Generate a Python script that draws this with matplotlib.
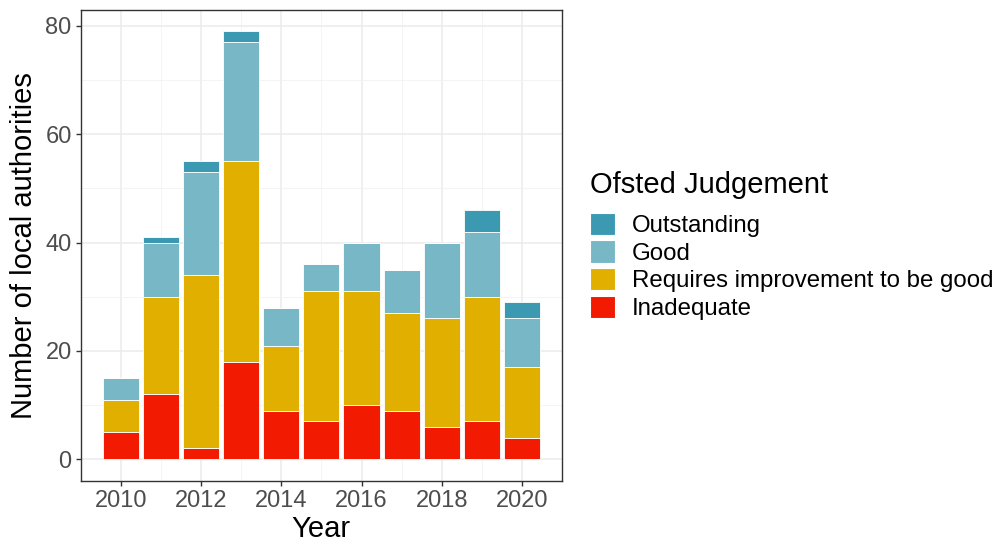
import matplotlib
matplotlib.use("Agg")
import matplotlib.pyplot as plt
from matplotlib.patches import Patch
from matplotlib.ticker import MultipleLocator
import numpy as np

plt.rcParams['font.family'] = ['Liberation Sans', 'DejaVu Sans']

years = [2010, 2011, 2012, 2013, 2014, 2015, 2016, 2017, 2018, 2019, 2020]
inadequate = [5, 12, 2, 18, 9, 7, 10, 9, 6, 7, 4]
requires_improvement = [6, 18, 32, 37, 12, 24, 21, 18, 20, 23, 13]
good = [4, 10, 19, 22, 7, 5, 9, 8, 14, 12, 9]
outstanding = [0, 1, 2, 2, 0, 0, 0, 0, 0, 4, 3]

categories = ["Outstanding", "Good", "Requires improvement to be good", "Inadequate"]
colors = {"Outstanding": "#3B9AB2", "Good": "#78B7C5",
          "Requires improvement to be good": "#E1AF00", "Inadequate": "#F21A00"}

fig = plt.figure(figsize=(10.04, 5.47), dpi=100)
ax = fig.add_axes([0.0804, 0.1212, 0.4794, 0.8605])

# stack from the bottom: Inadequate, RI, Good, Outstanding
stack = [("Inadequate", inadequate),
         ("Requires improvement to be good", requires_improvement),
         ("Good", good),
         ("Outstanding", outstanding)]
bottom = np.zeros(len(years))
for name, vals in stack:
    vals = np.array(vals, dtype=float)
    ax.bar(years, vals, bottom=bottom, width=0.9, color=colors[name],
           edgecolor="white", linewidth=0.6, zorder=3)
    bottom += vals

total_max = bottom.max()
ax.set_ylim(-0.05 * total_max, total_max * 1.05)
ax.set_xlim(2009.55 - 0.545, 2020.45 + 0.545)

ax.xaxis.set_major_locator(MultipleLocator(2))
ax.xaxis.set_minor_locator(MultipleLocator(1))
ax.yaxis.set_major_locator(MultipleLocator(20))
ax.yaxis.set_minor_locator(MultipleLocator(10))
ax.grid(which="major", color="#EBEBEB", linewidth=1.1, zorder=0)
ax.grid(which="minor", color="#F2F2F2", linewidth=0.6, zorder=0)
ax.set_axisbelow(True)

ax.tick_params(which="major", length=3.5, width=1.0, color="#333333",
               labelsize=17, labelcolor="#4D4D4D", pad=3)
ax.tick_params(which="minor", length=0)
for s in ax.spines.values():
    s.set_color("#333333")
    s.set_linewidth(1.0)

ax.set_xlabel("Year", fontsize=21, color="black", labelpad=2)
ax.set_ylabel("Number of local authorities", fontsize=21, color="black", labelpad=5)

handles = [Patch(facecolor=colors[c], edgecolor="white", linewidth=0.8, label=c)
           for c in categories]
leg = fig.legend(handles=handles, loc="upper left", bbox_to_anchor=(0.578, 0.705),
                 frameon=False, fontsize=17.3, title="Ofsted Judgement",
                 title_fontsize=21, handlelength=1.04, handleheight=1.04,
                 handletextpad=0.7, labelspacing=0.14, borderaxespad=0)
leg._legend_box.align = "left"
leg._legend_box.sep = 10

fig.savefig("out.png", dpi=100)
